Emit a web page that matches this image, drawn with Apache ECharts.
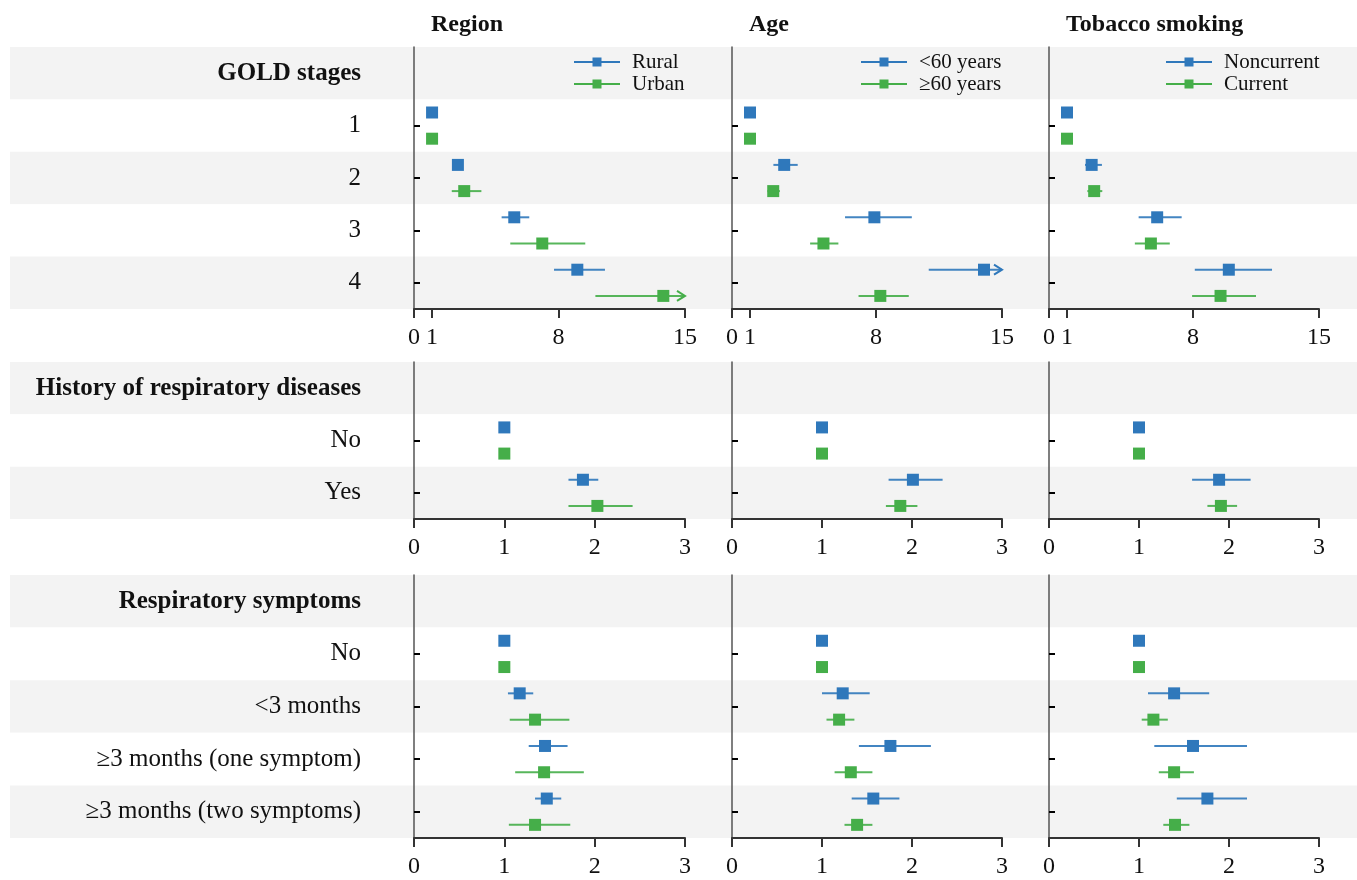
<!DOCTYPE html>
<html>
<head>
<meta charset="utf-8">
<script src="https://cdn.jsdelivr.net/npm/echarts@6/dist/echarts.min.js"></script>
<style>
  html, body { margin: 0; padding: 0; background: #fff; }
  #chart { width: 1357px; height: 880px; }
</style>
</head>
<body>
<div id="chart"></div>
<script>
const columnTitles = ['Region', 'Age', 'Tobacco smoking'];
const groupNames = [['Rural', 'Urban'], ['<60 years', '≥60 years'], ['Noncurrent', 'Current']];

const goldRows = ['GOLD stages', '1', '2', '3', '4'];
const historyRows = ['History of respiratory diseases', 'No', 'Yes'];
const symptomRows = ['Respiratory symptoms', 'No', '<3 months', '≥3 months (one symptom)', '≥3 months (two symptoms)'];

const goldTicks = [0, 1, 8, 15];
const smallTicks = [0, 1, 2, 3];

// [estimate, lower CI, upper CI] for each row under the header
const goldRural = [[1, 1, 1], [2.43, 2.25, 2.62], [5.55, 4.85, 6.38], [9.04, 7.75, 10.57]];
const goldUrban = [[1, 1, 1], [2.78, 2.09, 3.73], [7.1, 5.33, 9.48], [13.8, 10.04, 18.6]];
const goldYounger = [[1, 1, 1], [2.9, 2.3, 3.65], [7.91, 6.28, 9.99], [14.0, 10.93, 19.2]];
const goldOlder = [[1, 1, 1], [2.29, 1.97, 2.66], [5.08, 4.34, 5.91], [8.24, 7.03, 9.82]];
const goldNoncurrent = [[1, 1, 1], [2.37, 2.0, 2.94], [6.01, 4.98, 7.37], [9.99, 8.1, 12.39]];
const goldCurrent = [[1, 1, 1], [2.51, 2.13, 2.96], [5.66, 4.77, 6.71], [9.53, 7.95, 11.5]];

const historyRural = [[1, 1, 1], [1.87, 1.71, 2.04]];
const historyUrban = [[1, 1, 1], [2.03, 1.71, 2.42]];
const historyYounger = [[1, 1, 1], [2.01, 1.74, 2.34]];
const historyOlder = [[1, 1, 1], [1.87, 1.71, 2.06]];
const historyNoncurrent = [[1, 1, 1], [1.89, 1.59, 2.24]];
const historyCurrent = [[1, 1, 1], [1.91, 1.76, 2.09]];

const symptomRural = [[1, 1, 1], [1.17, 1.04, 1.32], [1.45, 1.27, 1.7], [1.47, 1.34, 1.63]];
const symptomUrban = [[1, 1, 1], [1.34, 1.06, 1.72], [1.44, 1.12, 1.88], [1.34, 1.05, 1.73]];
const symptomYounger = [[1, 1, 1], [1.23, 1.0, 1.53], [1.76, 1.41, 2.21], [1.57, 1.33, 1.86]];
const symptomOlder = [[1, 1, 1], [1.19, 1.05, 1.36], [1.32, 1.14, 1.56], [1.39, 1.25, 1.56]];
const symptomNoncurrent = [[1, 1, 1], [1.39, 1.1, 1.78], [1.6, 1.17, 2.2], [1.76, 1.42, 2.2]];
const symptomCurrent = [[1, 1, 1], [1.16, 1.03, 1.32], [1.39, 1.22, 1.61], [1.4, 1.27, 1.56]];

const panels = [
  { rows: goldRows, max: 15, ticks: goldTicks,
    data: [[goldRural, goldUrban], [goldYounger, goldOlder], [goldNoncurrent, goldCurrent]] },
  { rows: historyRows, max: 3, ticks: smallTicks,
    data: [[historyRural, historyUrban], [historyYounger, historyOlder], [historyNoncurrent, historyCurrent]] },
  { rows: symptomRows, max: 3, ticks: smallTicks,
    data: [[symptomRural, symptomUrban], [symptomYounger, symptomOlder], [symptomNoncurrent, symptomCurrent]] }
];

// layout
const font = "'Liberation Serif', 'Times New Roman', serif";
const colors = ['#2f78bb', '#45ae49'];
const colLeft = [414, 732, 1049];
const colWidth = [271, 270, 270];
const panelTop = [47, 362, 575];
const panelHeight = [262, 157, 263];
const legendLeft = [574, 861, 1166];

const renderCI = (params, api) => {
  const row = api.value(3);
  const side = api.value(4);
  const band = api.size([0, 1])[1];
  const y = api.coord([0, row])[1] + side * band * 0.25;
  const xMax = params.coordSys.x + params.coordSys.width;
  const p = api.coord([api.value(0), row])[0];
  const a = api.coord([api.value(1), row])[0];
  let b = api.coord([api.value(2), row])[0];
  const over = b > xMax;
  if (over) b = xMax;
  const color = api.visual('color');
  const children = [];
  if (b - a > 0) {
    children.push({ type: 'line', shape: { x1: a, y1: y, x2: b, y2: y }, style: { stroke: color, lineWidth: 2, opacity: 0.9 } });
  }
  if (over) {
    children.push({ type: 'polyline', shape: { points: [[b - 8, y - 5], [b, y], [b - 8, y + 5]] },
      style: { stroke: color, fill: null, lineWidth: 2 } });
  }
  children.push({ type: 'rect', shape: { x: p - 6, y: y - 6, width: 12, height: 12 }, style: { fill: color } });
  return { type: 'group', children };
};

const grid = [], xAxis = [], yAxis = [], series = [];

panels.forEach((panel, p) => {
  panel.data.forEach((groups, c) => {
    const idx = grid.length;
    grid.push({ left: colLeft[c], width: colWidth[c], top: panelTop[p], height: panelHeight[p] });
    xAxis.push({
      gridIndex: idx, type: 'value', min: 0, max: panel.max,
      axisLine: { show: true, lineStyle: { color: '#333', width: 2 } },
      axisTick: { show: true, length: 9, customValues: panel.ticks, lineStyle: { color: '#333', width: 2 } },
      axisLabel: { customValues: panel.ticks, fontFamily: font, fontSize: 24, color: '#111', margin: 17 },
      splitLine: { show: false }
    });
    yAxis.push({
      gridIndex: idx, type: 'category', data: panel.rows, inverse: true,
      axisLine: { show: true, lineStyle: { color: '#555', width: 1.5 } },
      axisTick: { show: true, inside: true, length: 6, alignWithLabel: true,
        interval: (i) => i > 0, lineStyle: { color: '#000', width: 2 } },
      axisLabel: {
        show: c === 0, margin: 53, fontFamily: font, fontSize: 25, color: '#111',
        formatter: (v, i) => (i === 0 ? '{h|' + v + '}' : v),
        rich: { h: { fontFamily: font, fontSize: 25, fontWeight: 'bold', color: '#111' } }
      },
      splitLine: { show: false }
    });
    groups.forEach((arr, g) => {
      series.push({
        type: 'custom', name: groupNames[c][g],
        xAxisIndex: idx, yAxisIndex: idx,
        color: colors[g],
        encode: { x: [0, 1, 2], y: 3 },
        data: arr.map((d, i) => [d[0], d[1], d[2], i + 1, g === 0 ? -1 : 1]),
        renderItem: renderCI
      });
    });
  });
});

// full-width striped backgrounds behind each panel
panels.forEach((panel, p) => {
  const idx = grid.length;
  grid.push({ left: 10, right: 0, top: panelTop[p], height: panelHeight[p] });
  xAxis.push({ gridIndex: idx, type: 'value', show: false });
  yAxis.push({
    gridIndex: idx, type: 'category', data: panel.rows, inverse: true, z: -1,
    axisLine: { show: false }, axisTick: { show: false }, axisLabel: { show: false },
    splitArea: { show: true, areaStyle: { color: ['#f3f3f3', '#ffffff'] } }
  });
});

const legendIcon = 'path://M0,3.5L46,3.5L46,5.5L0,5.5Z M18.5,0L27.5,0L27.5,9L18.5,9Z';

const option = {
  animation: false,
  backgroundColor: '#fff',
  title: columnTitles.map((t, c) => ({
    text: t, left: colLeft[c] + 12, top: 8,
    textStyle: { fontFamily: font, fontSize: 24, fontWeight: 'bold', color: '#111' }
  })),
  legend: groupNames.map((names, c) => ({
    data: names, orient: 'vertical', left: legendLeft[c], top: 51, padding: 0,
    icon: legendIcon, itemWidth: 46, itemHeight: 9, itemGap: 0,
    selectedMode: false,
    textStyle: { fontFamily: font, fontSize: 21, lineHeight: 22, color: '#111', padding: [0, 0, 0, 7] }
  })),
  grid, xAxis, yAxis, series
};

const chart = echarts.init(document.getElementById('chart'));
chart.setOption(option);
</script>
</body>
</html>
